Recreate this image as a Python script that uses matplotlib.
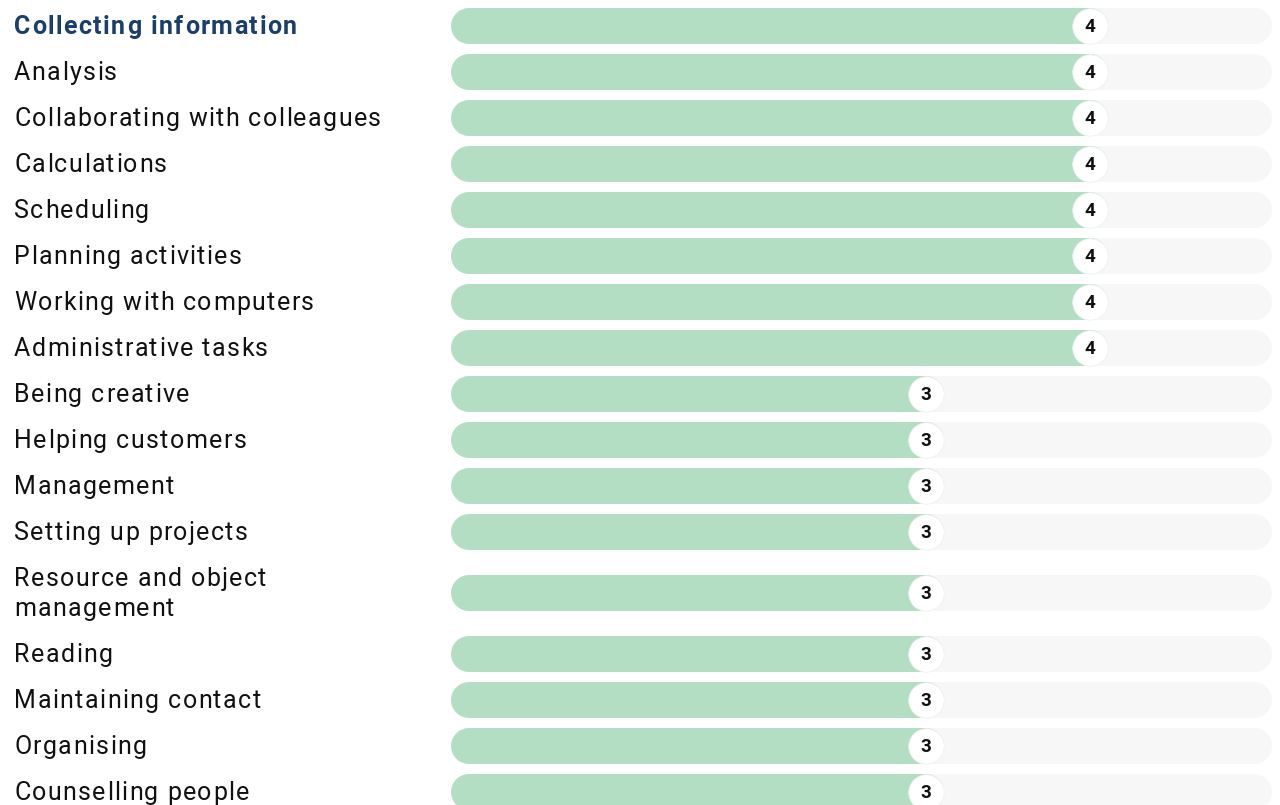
import matplotlib
matplotlib.use("Agg")
import matplotlib.pyplot as plt
from matplotlib.font_manager import FontProperties

plt.rcParams['font.family'] = ['Roboto', 'DejaVu Sans']

# data
skills = ["Collecting information", "Analysis", "Collaborating with colleagues",
          "Calculations", "Scheduling", "Planning activities",
          "Working with computers", "Administrative tasks", "Being creative",
          "Helping customers", "Management", "Setting up projects",
          "Resource and object\nmanagement", "Reading", "Maintaining contact",
          "Organising", "Counselling people"]
scores = [4, 4, 4, 4, 4, 4, 4, 4, 3, 3, 3, 3, 3, 3, 3, 3, 3]
max_score = 5

W, H = 1280, 805
fig = plt.figure(figsize=(W / 100, H / 100), dpi=100)
x0, x1 = 451, 1272
ax = fig.add_axes([x0 / W, 0, (x1 - x0) / W, 1])
ax.set_xlim(0, max_score)
ax.set_ylim(H, 0)
ax.axis('off')

bar_px = 36
lw = bar_px * 0.72
r = (bar_px / 2) * max_score / (x1 - x0)  # cap radius in data units

renderer = fig.canvas.get_renderer()


def text_w(s, fp):
    return renderer.get_text_width_height_descent(s, fp, ismath=False)[0]


def draw_label(x, y, s, fp, color, track=1.4):
    # letter-spaced label, y is the baseline in pixels from top
    ref = text_w('H', fp)
    for i, ch in enumerate(s):
        if ch == ' ':
            continue
        off = text_w(s[:i] + 'H', fp) - ref if i else 0
        fig.text((x + off + i * track) / W, 1 - y / H, ch, fontproperties=fp,
                 color=color, ha='left', va='baseline')


fp_reg = FontProperties(family='Roboto', size=18)
fp_bold = FontProperties(family='Roboto', size=18, weight='bold')

# row centres (pixel rows), wrapped labels take extra room
ys = []
y = 26
prev_extra = 0
for i, s in enumerate(skills):
    extra = 15 if "\n" in s else 0
    if i > 0:
        y += 46 + extra + prev_extra
    ys.append(y)
    prev_extra = extra

for i, (s, v, yy) in enumerate(zip(skills, scores, ys)):
    ax.plot([r, max_score - r], [yy, yy], color='#f7f7f7', lw=lw,
            solid_capstyle='round', zorder=1)
    ax.plot([r, v - r], [yy, yy], color='#b3dec3', lw=lw,
            solid_capstyle='round', zorder=2)
    ax.scatter([v - r], [yy], s=25.5 ** 2, color='white', edgecolors='#eef3ef',
               linewidths=0.6, zorder=3)
    ax.text(v - r, yy + 0.5, str(v), ha='center', va='center', fontsize=13.5,
            fontweight='bold', color='#111111', zorder=4)
    lines = s.split("\n")
    n = len(lines)
    for k, line in enumerate(lines):
        base = yy + 8 + (k - (n - 1) / 2) * 30
        if i == 0:
            draw_label(14, base, line, fp_bold, '#1b3f6b', track=1.5)
        else:
            draw_label(14, base, line, fp_reg, '#111111')

fig.savefig("out.png", dpi=100)
